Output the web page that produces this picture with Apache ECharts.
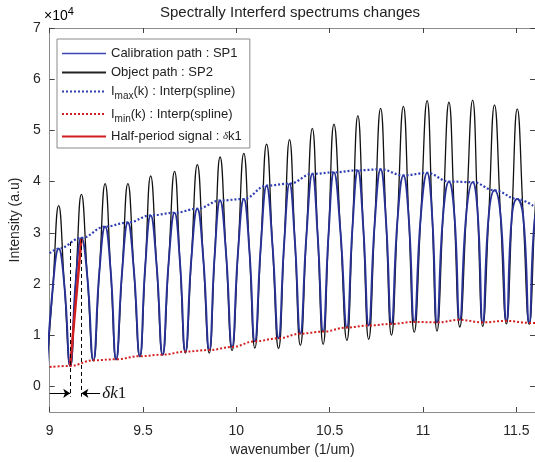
<!DOCTYPE html>
<html><head><meta charset="utf-8">
<script src="https://cdn.jsdelivr.net/npm/echarts@6/dist/echarts.min.js"></script>
<style>html,body{margin:0;padding:0;background:#fff}#c{width:535px;height:462px}</style>
</head><body><div id="c"></div>
<script>
// wavenumber positions of fringe maxima / minima (1/um)
const kPeaks   = [9.048, 9.170, 9.297, 9.419, 9.541, 9.669, 9.791, 9.913, 10.040, 10.162, 10.285, 10.407, 10.523, 10.651, 10.773, 10.895, 11.022, 11.139, 11.266, 11.383, 11.505];
const kTroughs = [9.110, 9.234, 9.356, 9.483, 9.605, 9.727, 9.855, 9.977, 10.099, 10.226, 10.343, 10.465, 10.592, 10.709, 10.831, 10.953, 11.075, 11.197, 11.320, 11.447, 11.569];
// mid-flank positions (rising flank before each peak, falling flank after each peak)
const kRise = [9.017, 9.140, 9.266, 9.388, 9.512, 9.637, 9.759, 9.884, 10.009, 10.131, 10.256, 10.375, 10.494, 10.622, 10.741, 10.863, 10.988, 11.107, 11.232, 11.352, 11.476, 11.598];
const kFall = [9.079, 9.202, 9.327, 9.451, 9.573, 9.698, 9.823, 9.945, 10.070, 10.194, 10.314, 10.436, 10.558, 10.680, 10.802, 10.924, 11.049, 11.168, 11.293, 11.415, 11.537];
// mid-flank intensity (both paths share the lower flanks)
const flankRise = [19450, 20700, 22300, 22400, 23450, 24050, 24900, 25650, 26250, 27400, 27800, 29200, 29700, 30950, 31750, 32350, 33200, 33150, 33750, 33350, 33200, 32550];
const flankFall = [19600, 21250, 22400, 22700, 23600, 24250, 24900, 25900, 26500, 27350, 28100, 29300, 30100, 31050, 32150, 32650, 33300, 33550, 33800, 33600, 33150];
// Object path SP2 (black)
const sp2Peaks   = [35300, 37500, 39600, 39600, 41100, 42000, 43300, 44800, 45500, 47300, 48200, 50400, 51200, 52900, 54300, 54700, 55800, 55500, 55900, 55000, 54200];
const sp2Troughs = [3900, 5000, 5200, 5800, 6100, 6500, 6500, 7000, 7500, 7400, 8000, 8200, 9000, 9200, 10000, 10600, 10800, 11600, 11700, 12200, 12100];
// Calibration path SP1 (blue)
const sp1Peaks   = [26900, 29000, 31200, 32000, 33400, 33900, 34700, 36300, 36600, 39200, 39600, 41500, 41800, 42200, 42400, 41200, 41700, 40000, 39900, 38300, 36600];
const sp1Troughs = [4000, 5100, 5300, 5900, 6200, 6800, 7100, 7700, 8800, 9400, 10300, 10700, 11500, 11900, 12200, 12600, 12500, 13000, 12500, 12800, 12400];
// fringes just outside the visible range (lead trough, tail peak)
const kEdge   = [8.985, 11.627];
const sp1Edge = [3700, 35500];
const sp2Edge = [3600, 53000];
// envelopes (spline interpolation)
const kImax   = [9.0, ...kPeaks, 11.6];
const imaxVal = [26000, 26900, 29000, 31200, 32000, 33400, 33900, 34700, 36300, 36600, 39200, 39600, 41500, 41800, 42200, 42400, 41200, 41700, 40000, 39900, 38300, 36600, 35000];
const kImin   = [9.0, ...kTroughs, 11.6];
const iminVal = [3800, 4000, 5100, 5300, 5900, 6200, 6800, 7100, 7700, 8800, 9400, 10300, 10700, 11500, 11900, 12200, 12600, 12500, 13000, 12500, 12800, 12400, 12400];
// half-period signal
const halfK   = [9.110, 9.170];
const halfVal = [4100, 28800];
// delta-k annotation
const dkLeftTop = 28200, dkRightTop = 28800, dkBottom = -2000, dkArrowY = -1350;
const dkArrowFrom = [9.0, 9.27];
const dkTextK = 9.282;
// ticks
const xTicks = [9, 9.5, 10, 10.5, 11, 11.5];
const yTicks = [0, 10000, 20000, 30000, 40000, 50000, 60000, 70000];

function fringe(edgeV, peaksV, troughsV) {
  const pts = [[kEdge[0], edgeV[0]], [kEdge[1], edgeV[1]]];
  kPeaks.forEach((k, i) => pts.push([k, peaksV[i]]));
  kTroughs.forEach((k, i) => pts.push([k, troughsV[i]]));
  kRise.forEach((k, i) => pts.push([k, flankRise[i]]));
  kFall.forEach((k, i) => pts.push([k, flankFall[i]]));
  return pts.sort((a, b) => a[0] - b[0]);
}
const zip = (a, b) => a.map((v, i) => [v, b[i]]);

const FONT = "'Liberation Sans', Arial, sans-serif";
const TXT = '#262626';
const AX = '#8c8c8c';
const BLUE = '#283195', BLACK = '#111111', DOTBLUE = '#2f3fb0', RED = '#d11f1f';

const chart = echarts.init(document.getElementById('c'), null, {renderer: 'canvas'});
const legendNames = {
  SP1: '{a|Calibration path : SP1}',
  SP2: '{a|Object path : SP2}',
  IMAX: '{a|I}{sub|max}{a|(k) : Interp(spline)}',
  IMIN: '{a|I}{sub|min}{a|(k) : Interp(spline)}',
  HALF: '{a|Half-period signal : }{d|δ}{a|k1}'
};
const axisCommon = {
  axisLine: {show: true, onZero: false, lineStyle: {color: AX, width: 1}},
  axisTick: {show: true, inside: true, length: 5, lineStyle: {color: '#444'}},
  splitLine: {show: false}
};
chart.setOption({
  animation: false,
  backgroundColor: '#fff',
  textStyle: {fontFamily: FONT},
  grid: {left: 46, right: -1, top: 28, bottom: 49},
  graphic: [
    {type: 'text', x: 290, y: 5, style: {text: 'Spectrally Interferd spectrums changes', font: "15px 'Liberation Sans', Arial", fill: '#222', align: 'center', textAlign: 'center'}},
    {type: 'text', x: 44, y: 6, style: {text: '{a|×10}{s|4}', rich: {a: {fontSize: 14, fontFamily: FONT, color: '#333'}, s: {fontSize: 11, fontFamily: FONT, color: '#333', padding: [0, 0, 9, 0]}}}}
  ],
  legend: {
    orient: 'vertical', left: 57, top: 39,
    padding: [8, 8, 5, 4], itemGap: 6, itemWidth: 44, itemHeight: 12,
    backgroundColor: '#fff', borderColor: '#8a8a8a', borderWidth: 1,
    itemStyle: {opacity: 0},
    data: [
      {name: 'SP1', lineStyle: {color: '#3a44b8', width: 1.3}},
      {name: 'SP2', lineStyle: {color: '#222', width: 2}},
      {name: 'IMAX'}, {name: 'IMIN'}, {name: 'HALF'}
    ],
    formatter: n => legendNames[n],
    textStyle: {fontSize: 13, color: '#222', rich: {
      a: {fontSize: 13, color: '#222', fontFamily: FONT},
      sub: {fontSize: 10, color: '#222', fontFamily: FONT, padding: [10, 0, 0, 0]},
      d: {fontSize: 11, color: '#222', fontFamily: "'Liberation Serif', serif", fontStyle: 'italic'}
    }}
  },
  xAxis: [
    Object.assign({type: 'value', min: 9, max: 11.6, position: 'bottom',
      name: 'wavenumber (1/um)', nameLocation: 'middle', nameGap: 31,
      nameTextStyle: {fontSize: 14, color: TXT, fontFamily: FONT},
      axisLabel: {customValues: xTicks, fontSize: 14, color: TXT, margin: 12, fontFamily: FONT}},
      axisCommon, {axisTick: Object.assign({}, axisCommon.axisTick, {customValues: xTicks})}),
    Object.assign({type: 'value', min: 9, max: 11.6, position: 'top', axisLabel: {show: false}},
      axisCommon, {axisTick: Object.assign({}, axisCommon.axisTick, {customValues: xTicks})})
  ],
  yAxis: [
    Object.assign({type: 'value', min: -5000, max: 70000, position: 'left',
      name: 'Intensity (a.u)', nameLocation: 'middle', nameGap: 24,
      nameTextStyle: {fontSize: 14, color: TXT, fontFamily: FONT},
      axisLabel: {customValues: yTicks, fontSize: 14, color: TXT, margin: 9, fontFamily: FONT, formatter: v => String(v / 10000)}},
      axisCommon, {axisTick: Object.assign({}, axisCommon.axisTick, {customValues: yTicks})}),
    Object.assign({type: 'value', min: -5000, max: 70000, position: 'right', axisLabel: {show: false}},
      axisCommon, {axisTick: Object.assign({}, axisCommon.axisTick, {customValues: yTicks})})
  ],
  series: [
    {name: 'SP2', type: 'line', data: fringe(sp2Edge, sp2Peaks, sp2Troughs), smooth: 0.5, showSymbol: false, symbol: 'none',
      lineStyle: {color: BLACK, width: 1.3}, itemStyle: {color: BLACK}},
    {name: 'SP1', type: 'line', data: fringe(sp1Edge, sp1Peaks, sp1Troughs), smooth: 0.5, showSymbol: false, symbol: 'none',
      lineStyle: {color: BLUE, width: 1.9}, itemStyle: {color: BLUE}},
    {name: 'IMAX', type: 'line', data: zip(kImax, imaxVal), smooth: 0.4, smoothMonotone: 'x', symbol: 'none',
      lineStyle: {color: DOTBLUE, width: 2.2, type: [2, 2]}, itemStyle: {color: DOTBLUE}},
    {name: 'IMIN', type: 'line', data: zip(kImin, iminVal), smooth: 0.4, smoothMonotone: 'x', symbol: 'none',
      lineStyle: {color: RED, width: 2, type: [2, 2]}, itemStyle: {color: RED}},
    {name: 'HALF', type: 'line', data: zip(halfK, halfVal), symbol: 'none',
      lineStyle: {color: RED, width: 2.5}, itemStyle: {color: RED},
      markLine: {silent: true, symbol: ['none', 'arrow'], symbolSize: 7, label: {show: false},
        lineStyle: {color: '#000', width: 1, type: 'solid'},
        data: [
          [{coord: [halfK[0], dkLeftTop], symbol: 'none', lineStyle: {type: [4, 3], color: '#000', width: 1}}, {coord: [halfK[0], dkBottom], symbol: 'none'}],
          [{coord: [halfK[1], dkRightTop], symbol: 'none', lineStyle: {type: [4, 3], color: '#000', width: 1}}, {coord: [halfK[1], dkBottom], symbol: 'none'}],
          [{coord: [dkArrowFrom[0], dkArrowY]}, {coord: [halfK[0], dkArrowY]}],
          [{coord: [dkArrowFrom[1], dkArrowY]}, {coord: [halfK[1], dkArrowY]}]
        ]},
      markPoint: {silent: true, symbol: 'circle', symbolSize: 0,
        data: [{coord: [dkTextK, dkArrowY], label: {show: true, position: 'right', distance: 0,
          formatter: '{i|δk}{n|1}', rich: {i: {fontSize: 17, fontStyle: 'italic', fontFamily: "'Liberation Serif', serif", color: '#111'}, n: {fontSize: 17, fontFamily: "'Liberation Serif', serif", color: '#111'}}}}]}
    }
  ]
});
</script></body></html>
